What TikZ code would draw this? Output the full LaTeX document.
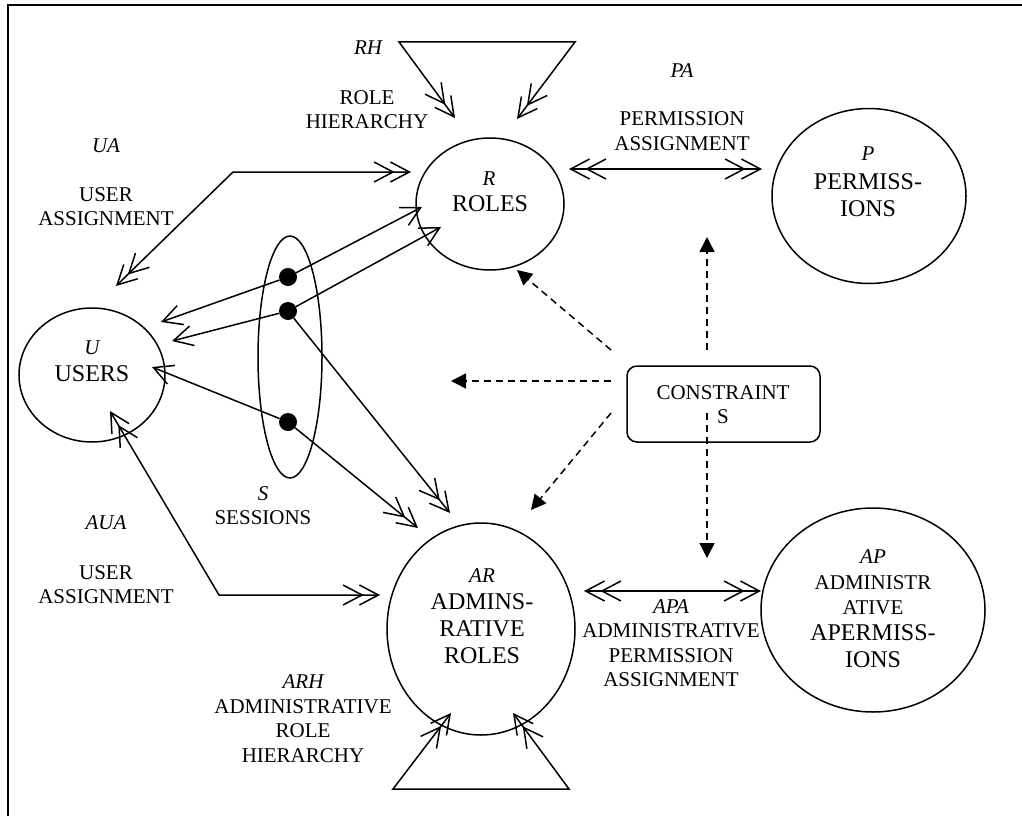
\documentclass[tikz,border=0pt]{standalone}
\usepackage{fontspec}
\setmainfont{Liberation Serif}
\usetikzlibrary{arrows.meta,shapes.geometric}
\tikzset{
  dbarb/.tip={Straight Barb[length=19pt,width=20pt,sep=-5pt] Straight Barb[length=19pt,width=20pt]},
  sbarb/.tip={Straight Barb[length=19pt,width=20pt]},
  dtri/.tip={Triangle[length=15pt,width=15pt]},
  lw/.style={line width=1.5pt},
  ell/.style={draw,ellipse,line width=1.5pt,inner sep=0pt},
  lbl/.style={inner sep=0pt,align=center,font=\fontsize{21}{24.5}\selectfont},
  big/.style={inner sep=0pt,align=center,font=\fontsize{24}{27}\selectfont},
  ital/.style={inner sep=0pt,font=\fontsize{21}{24}\selectfont\itshape},
  toarr/.style={lw,-{dbarb}},
  bothar/.style={lw,{dbarb}-{dbarb}},
  sgl/.style={lw,-{sbarb}},
  dsh/.style={line width=1.5pt,dash pattern=on 7pt off 5pt,-{dtri}},
  dotnode/.style={circle,fill,inner sep=0pt,minimum size=18pt}
}
\begin{document}
\begin{tikzpicture}[x=1pt,y=-1pt]
\useasboundingbox (0,0) rectangle (1022,816);
% frame
\draw[line width=2pt] (8,816) -- (8,5) -- (1022,5);

% main ellipses
\node[ell,minimum width=146pt,minimum height=134pt] (U) at (92,375) {};
\node[ell,minimum width=148pt,minimum height=132pt] (R) at (490,204) {};
\node[ell,minimum width=194pt,minimum height=175pt] (P) at (869,196) {};
\node[ell,minimum width=64pt,minimum height=242pt] (S) at (290,357) {};
\node[ell,minimum width=188pt,minimum height=212pt] (AR) at (481,629) {};
\node[ell,minimum width=224pt,minimum height=204pt] (AP) at (873,610) {};
\node[draw,line width=1.5pt,rounded corners=10pt,minimum width=193pt,minimum height=76pt,inner sep=0pt] (C) at (723.5,404) {};

% texts
\node[ital] (tRH) at (368,48) {RH};
\node[lbl] (tRHl) at (367,109.5) {ROLE\\HIERARCHY};
\node[ital] (tUA) at (106,146) {UA};
\node[lbl] (tUAl) at (106,206.5) {USER\\ASSIGNMENT};
\node[ital] (tPA) at (682,71) {PA};
\node[lbl] (tPAl) at (682,131) {PERMISSION\\ASSIGNMENT};
\node[ital] (tR) at (489,179) {R};
\node[big] (tRl) at (490,204) {ROLES};
\node[ital] (tP) at (868,154) {P};
\node[big] (tPl) at (868,195.5) {PERMISS-\\IONS};
\node[ital] (tU) at (92,348) {U};
\node[big] (tUl) at (92,374) {USERS};
\node[lbl] (tC) at (723,404.5) {CONSTRAINT\\S};
\node[ital] (tS) at (263,494) {S};
\node[lbl] (tSl) at (263,518) {SESSIONS};
\node[ital] (tAUA) at (106,523) {AUA};
\node[lbl] (tAUAl) at (106,584.5) {USER\\ASSIGNMENT};
\node[ital] (tAR) at (482,576) {AR};
\node[big] (tARl) at (482,629) {ADMINS-\\RATIVE\\ROLES};
\node[ital] (tAPA) at (671,607) {APA};
\node[lbl] (tAPAl) at (671,655.5) {ADMINISTRATIVE\\PERMISSION\\ASSIGNMENT};
\node[ital] (tAP) at (873,557) {AP};
\node[lbl] (tAPl) at (873,595) {ADMINISTR\\ATIVE};
\node[big] (tAPl2) at (873,646) {APERMISS-\\IONS};
\node[ital] (tARH) at (303,682) {ARH};
\node[lbl] (tARHl) at (303,731) {ADMINISTRATIVE\\ROLE\\HIERARCHY};

% session dots
\node[dotnode] (d1) at (288,277) {};
\node[dotnode] (d2) at (288,311) {};
\node[dotnode] (d3) at (288,422) {};

% coordinates
\coordinate (rh1) at (399,42);
\coordinate (rh2) at (575,42);
\coordinate (rhA) at (455,118);
\coordinate (rhB) at (517,119);
\coordinate (uaS) at (233,172);
\coordinate (uaR) at (411,172);
\coordinate (uaU) at (116,286);
\coordinate (paL) at (569,169);
\coordinate (paR) at (762,169);
\coordinate (r1) at (422,207);
\coordinate (r2) at (441,227);
\coordinate (u1) at (161,322);
\coordinate (u2) at (172,341);
\coordinate (u3) at (152,367);
\coordinate (a2) at (450,513);
\coordinate (a3) at (418,528);
\coordinate (auaS) at (219,595);
\coordinate (auaU) at (110,411);
\coordinate (auaA) at (380,595);
\coordinate (apaL) at (584,591);
\coordinate (apaR) at (761,591);
\coordinate (arh1) at (393,789);
\coordinate (arh2) at (569,789);
\coordinate (arhA) at (451,713);
\coordinate (arhB) at (513,713);
\coordinate (cUp) at (707,350);
\coordinate (cUpT) at (707,237);
\coordinate (cDn) at (707,413);
\coordinate (cDnT) at (707,558);
\coordinate (cR) at (611,350);
\coordinate (cRT) at (517,270);
\coordinate (cM) at (611,381);
\coordinate (cMT) at (451,381);
\coordinate (cA) at (611,413);
\coordinate (cAT) at (531,510);

% RH loop
\draw[bothar] (rhA) -- (rh1) -- (rh2) -- (rhB);
% UA
\draw[bothar] (uaU) -- (uaS) -- (uaR);
% PA
\draw[bothar] (paL) -- (paR);
% sessions
\draw[sgl] (d1) -- (r1);
\draw[sgl] (d2) -- (r2);
\draw[sgl] (d1) -- (u1);
\draw[sgl] (d2) -- (u2);
\draw[sgl] (d3) -- (u3);
\draw[toarr] (d2) -- (a2);
\draw[toarr] (d3) -- (a3);
% AUA
\draw[bothar] (auaU) -- (auaS) -- (auaA);
% APA
\draw[bothar] (apaL) -- (apaR);
% ARH loop
\draw[bothar] (arhA) -- (arh1) -- (arh2) -- (arhB);
% constraints
\draw[dsh] (cUp) -- (cUpT);
\draw[dsh] (cDn) -- (cDnT);
\draw[dsh] (cR) -- (cRT);
\draw[dsh] (cM) -- (cMT);
\draw[dsh] (cA) -- (cAT);
\end{tikzpicture}
\end{document}
